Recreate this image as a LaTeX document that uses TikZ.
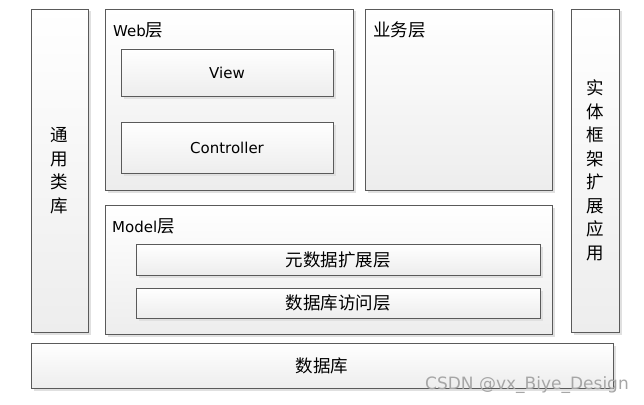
\documentclass[tikz,border=0pt]{standalone}
\usepackage{fontspec}
\setmainfont{DejaVu Sans}
\newfontfamily\cjk{Noto Sans CJK SC}
\usetikzlibrary{shadows}
\definecolor{edgegray}{HTML}{5A5A5A}
\definecolor{botgray}{HTML}{EDEDED}
\begin{document}
\begin{tikzpicture}[x=1pt,y=-1pt,
  box/.style={draw=edgegray, line width=0.9pt, top color=white, bottom color=botgray,
    drop shadow={shadow xshift=2.5pt, shadow yshift=-2.5pt, fill=black!12, opacity=1},
    inner sep=0pt, outer sep=0pt},
  cn/.style={font=\cjk\fontsize{17.5}{23.5}\selectfont, inner sep=0pt},
  en/.style={font=\fontsize{15}{16}\selectfont, inner sep=0pt},
  mix/.style={font=\fontsize{15}{16}\selectfont, inner sep=0pt, anchor=west}]
\useasboundingbox (0,0) rectangle (644,404);
\fill[white] (0,0) rectangle (644,404);

\node[box, minimum width=57pt, minimum height=323pt] (lib) at (59.5,170.5) {};
\node[box, minimum width=248pt, minimum height=181pt] (web) at (229,99.5) {};
\node[box, minimum width=212pt, minimum height=47pt] (view) at (227,72.5) {};
\node[box, minimum width=212pt, minimum height=51pt] (ctrl) at (227,147.5) {};
\node[box, minimum width=187pt, minimum height=181pt] (biz) at (458.5,99.5) {};
\node[box, minimum width=48pt, minimum height=323pt] (ent) at (595,170.5) {};
\node[box, minimum width=447pt, minimum height=129pt] (model) at (328.5,269.5) {};
\node[box, minimum width=404pt, minimum height=31pt] (meta) at (338,259.5) {};
\node[box, minimum width=404pt, minimum height=30pt] (dal) at (338,303) {};
\node[box, minimum width=582pt, minimum height=45pt] (db) at (322,365.5) {};

\node[cn, align=center] (libt) at (lib.center) {通\\用\\类\\库};
\node[cn, align=center] (entt) at (ent.center) {实\\体\\框\\架\\扩\\展\\应\\用};
\node[mix] (webt) at (113,30) {Web{\cjk\fontsize{17.5}{17.5}\selectfont 层}};
\node[cn, anchor=west] (bizt) at (373,30) {业务层};
\node[mix] (modelt) at (112,226) {Model{\cjk\fontsize{17.5}{17.5}\selectfont 层}};
\node[en] (viewt) at (view.center) {View};
\node[en] (ctrlt) at (ctrl.center) {Controller};
\node[cn] (metat) at (meta.center) {元数据扩展层};
\node[cn] (dalt) at (dal.center) {数据库访问层};
\node[cn] (dbt) at (db.center) {数据库};
\node[font=\fontsize{17}{18}\selectfont, text=black!35, inner sep=0pt, anchor=east] (wm) at (629,385) {CSDN @vx\_Biye\_Design};
\end{tikzpicture}
\end{document}
